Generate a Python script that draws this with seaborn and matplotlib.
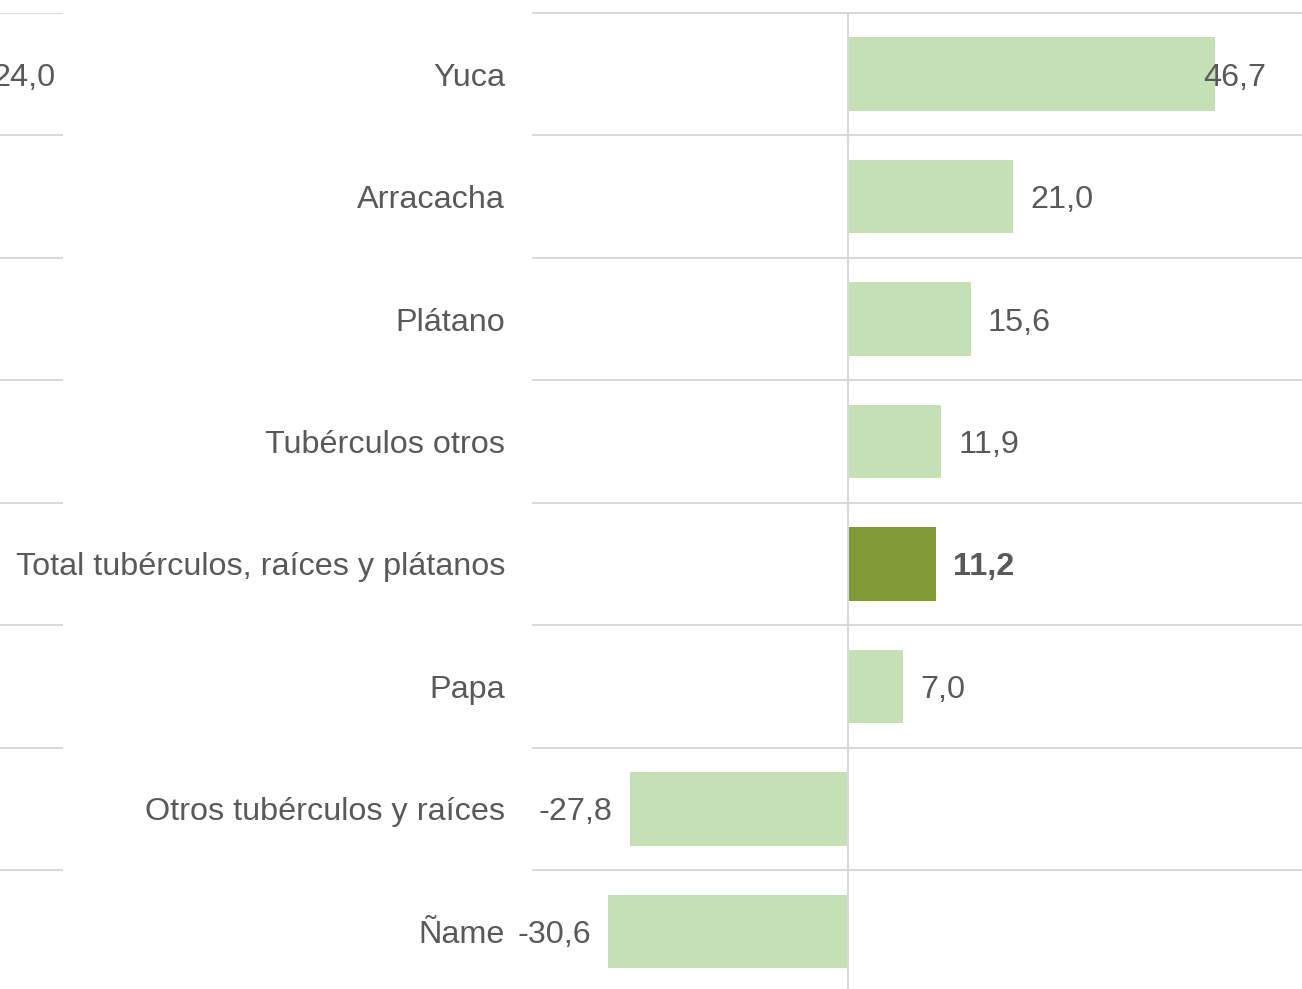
import matplotlib
matplotlib.use("Agg")
import matplotlib.pyplot as plt
import seaborn as sns
import pandas as pd

categories = ["Yuca", "Arracacha", "Plátano", "Tubérculos otros",
              "Total tubérculos, raíces y plátanos", "Papa",
              "Otros tubérculos y raíces", "Ñame"]
values = [46.7, 21.0, 15.6, 11.9, 11.2, 7.0, -27.8, -30.6]
value_labels = ["46,7", "21,0", "15,6", "11,9", "11,2", "7,0", "-27,8", "-30,6"]
highlight = "Total tubérculos, raíces y plátanos"
left_panel_labels = ["24,0"]  # visible label of the neighbouring (cropped) panel, Yuca row

LIGHT = "#C5E0B4"
DARK = "#7F9A37"
GRID = "#D9D9D9"
TEXT = "#595959"
FS = 23.3

sns.set_theme(style="white")
plt.rcParams["font.family"] = ["Liberation Sans", "DejaVu Sans"]

W, H = 1302, 989
fig = plt.figure(figsize=(W / 100, H / 100), dpi=100)

top_px, bottom_px = 13, 992.5
ax_bottom = (H - bottom_px) / H
ax_height = (bottom_px - top_px) / H
ax = fig.add_axes([533 / W, ax_bottom, 1 - 533 / W, ax_height])

df = pd.DataFrame({"cat": categories, "val": values})
palette = {c: (DARK if c == highlight else LIGHT) for c in categories}
sns.barplot(data=df, x="val", y="cat", hue="cat", palette=palette, width=0.6,
            legend=False, ax=ax, saturation=1, orient="h", linewidth=0)

ax.set_xlim(-40.1, 57.8)
ax.set_ylim(len(categories) - 0.5, -0.5)
for k in range(len(categories) + 1):
    ax.axhline(k - 0.5, color=GRID, lw=1.5, zorder=0, clip_on=False)
ax.axvline(0, color=GRID, lw=1.5, zorder=3)

for s in ax.spines.values():
    s.set_visible(False)
ax.set_xticks([])
ax.set_xlabel("")
ax.set_ylabel("")
ax.tick_params(axis="y", length=0, pad=20, labelsize=FS, labelcolor=TEXT)
for t in ax.get_yticklabels():
    t.set_va("center_baseline")

for i, (v, lab, c) in enumerate(zip(values, value_labels, categories)):
    bold = "bold" if c == highlight else "normal"
    if v >= 0:
        x = min(v + 2.16, 45.2)
        ax.text(x, i, lab, ha="left", va="center_baseline", fontsize=FS,
                color=TEXT, fontweight=bold)
    else:
        ax.text(v - 2.16, i, lab, ha="right", va="center_baseline", fontsize=FS,
                color=TEXT, fontweight=bold)

# neighbouring panel (cropped at the left edge)
axl = fig.add_axes([0, ax_bottom, 63 / W, ax_height])
axl.set_xlim(0, 1)
axl.set_ylim(len(categories) - 0.5, -0.5)
for k in range(len(categories) + 1):
    axl.axhline(k - 0.5, color=GRID, lw=1.5, zorder=0)
axl.axis("off")
for i, lab in enumerate(left_panel_labels):
    axl.text(55 / 63, i, lab, ha="right", va="center_baseline", fontsize=FS,
             color=TEXT)

fig.savefig("out.png", dpi=100, facecolor="white")
